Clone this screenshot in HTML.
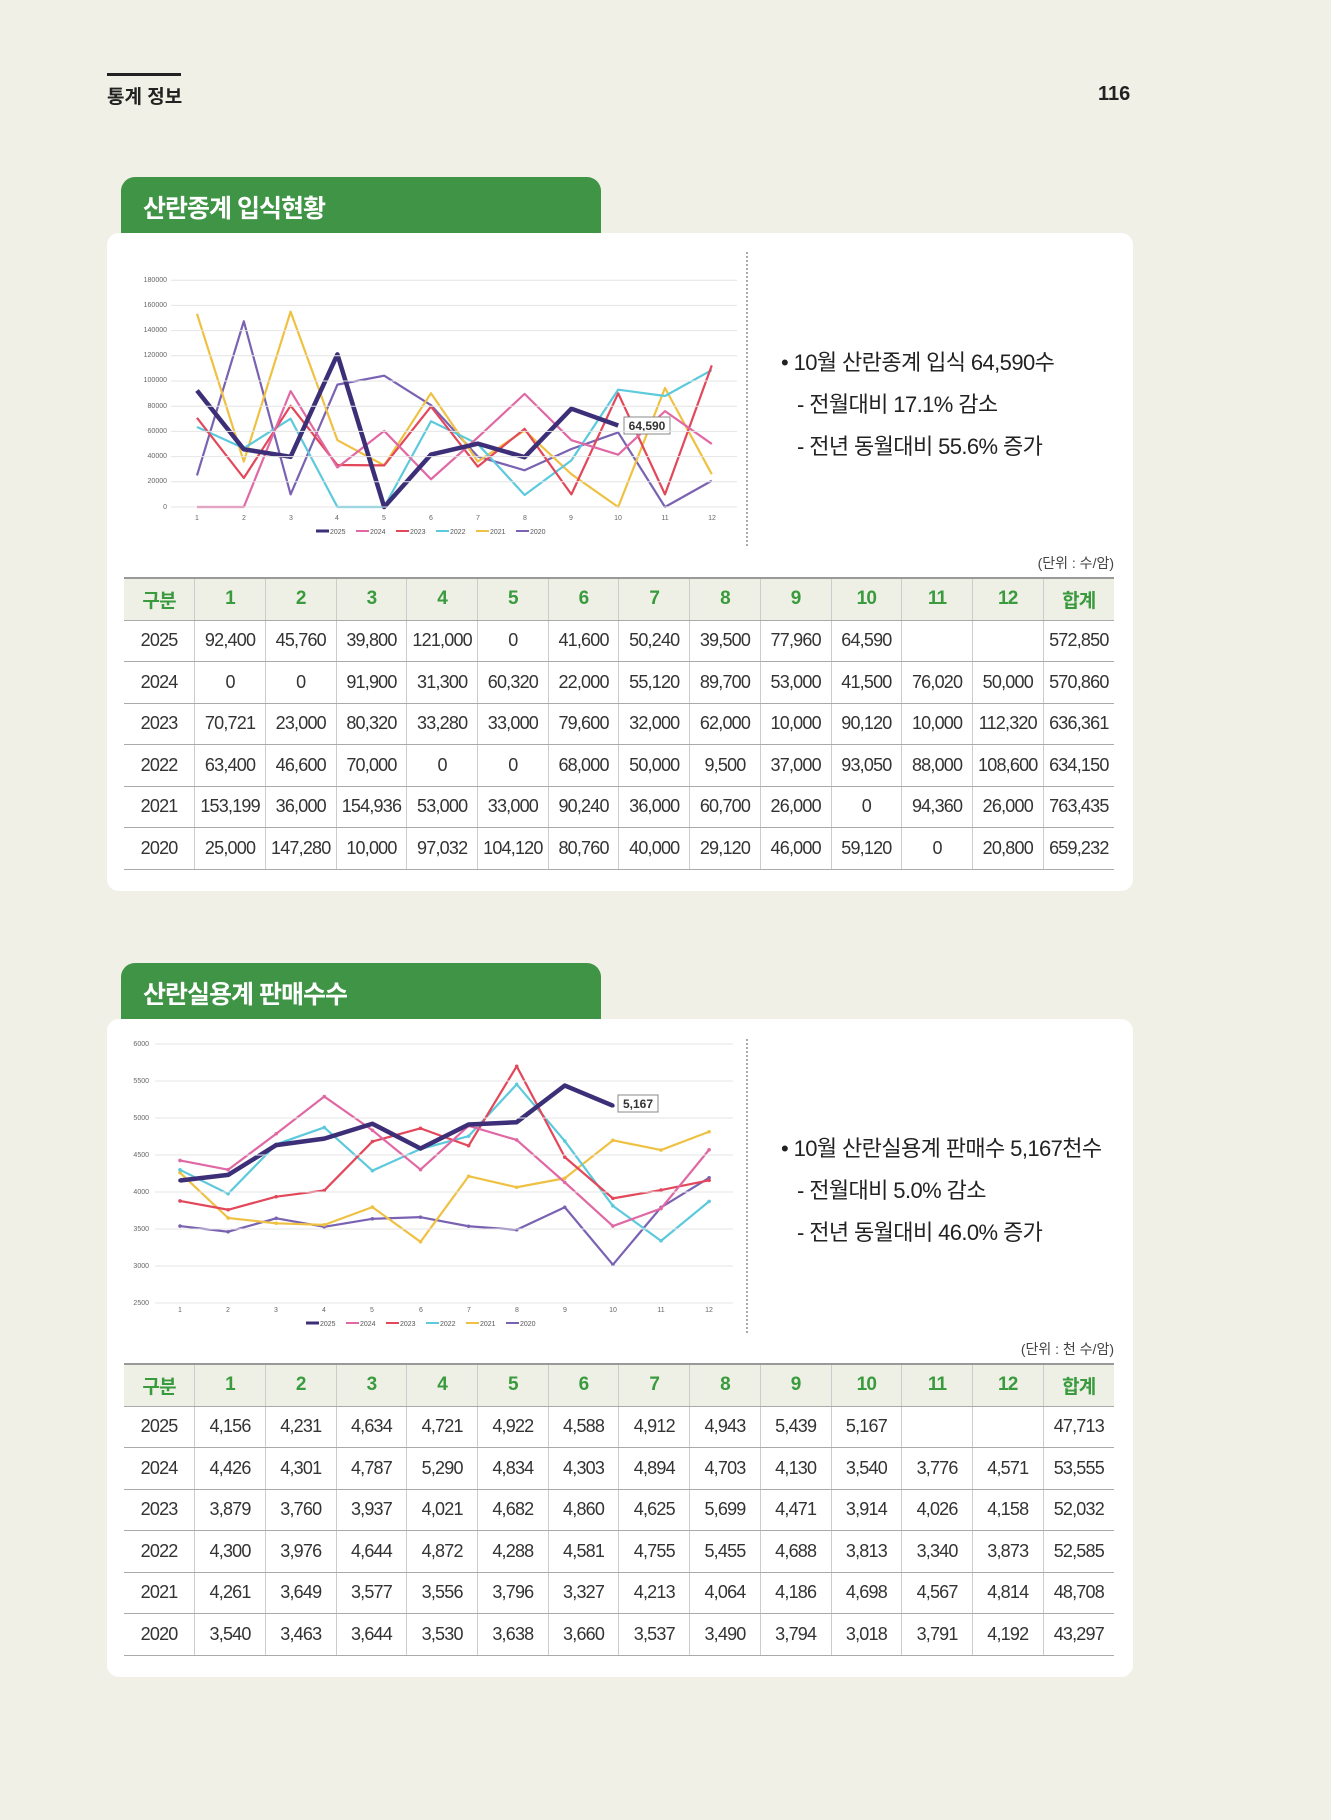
<!DOCTYPE html>
<html><head><meta charset="utf-8"><style>
*{margin:0;padding:0;box-sizing:border-box}
body{width:1331px;height:1820px;background:#f0f0e7;position:relative;font-family:"Liberation Sans","Noto Sans CJK KR",sans-serif;color:#222;overflow:hidden}
.abs{position:absolute}
.tab{position:absolute;left:121px;width:480px;height:58px;background:#3f9446;border-radius:14px 14px 0 0;color:#fff;font-size:25px;font-weight:bold;padding:12px 0 0 22px;letter-spacing:-1px}
.card{position:absolute;left:107px;width:1026px;background:#fff;border-radius:12px}
table{position:absolute;left:124px;width:990px;border-collapse:collapse;table-layout:fixed}
td,th{text-align:center;font-size:18px;letter-spacing:-0.8px;border-bottom:1px solid #aaa;border-left:1px solid #ccc;font-weight:normal;color:#333}
td:first-child,th:first-child{border-left:none}
th{background:#eef0e5;color:#3a9a3e;font-weight:bold;font-size:19px;border-top:2px solid #999}
.txt{position:absolute;font-size:22px;color:#222;letter-spacing:-0.6px}
.unit{position:absolute;font-size:14px;color:#444;right:217px}
svg text{font-family:"Liberation Sans",sans-serif}
</style></head><body>
<div class="abs" style="left:107px;top:73px;width:74px;height:3px;background:#222"></div>
<div class="abs" style="left:107px;top:82px;font-size:19px;font-weight:bold">통계 정보</div>
<div class="abs" style="left:1098px;top:83px;font-size:20px;font-weight:bold">116</div>

<div class="tab" style="top:177px">산란종계 입식현황</div>
<div class="card" style="top:233px;height:658px"></div>
<div class="tab" style="top:963px">산란실용계 판매수수</div>
<div class="card" style="top:1019px;height:658px"></div>

<svg id="sv" class="abs" style="left:0;top:0" width="1331" height="1820">
<line x1="747" y1="252" x2="747" y2="548" stroke="#555" stroke-dasharray="2,2"/>
<line x1="747" y1="1039" x2="747" y2="1334" stroke="#555" stroke-dasharray="2,2"/>
<g font-size="7" fill="#666" text-anchor="end">
<text x="167" y="282">180000</text><text x="167" y="307">160000</text><text x="167" y="332">140000</text><text x="167" y="357">120000</text><text x="167" y="382">100000</text><text x="167" y="408">80000</text><text x="167" y="433">60000</text><text x="167" y="458">40000</text><text x="167" y="483">20000</text><text x="167" y="509">0</text>
<text x="149" y="1046">6000</text><text x="149" y="1083">5500</text><text x="149" y="1120">5000</text><text x="149" y="1157">4500</text><text x="149" y="1194">4000</text><text x="149" y="1231">3500</text><text x="149" y="1268">3000</text><text x="149" y="1305">2500</text>
</g>
<g font-size="7" fill="#666" text-anchor="middle" id="xl"></g>
<g id="g1"></g><g id="g2"></g>
<g font-size="8" fill="#555" id="lg"></g>
<rect x="624" y="417" width="46" height="17" fill="#fff" stroke="#888"/>
<text x="647" y="430" font-size="12" font-weight="bold" fill="#333" text-anchor="middle">64,590</text>
<rect x="618" y="1095" width="40" height="17" fill="#fff" stroke="#888"/>
<text x="638" y="1108" font-size="12" font-weight="bold" fill="#333" text-anchor="middle">5,167</text>
</svg>

<div class="txt" style="left:781px;top:345px">• 10월 산란종계 입식 64,590수</div>
<div class="txt" style="left:797px;top:387px">- 전월대비 17.1% 감소</div>
<div class="txt" style="left:797px;top:429px">- 전년 동월대비 55.6% 증가</div>
<div class="txt" style="left:781px;top:1131px">• 10월 산란실용계 판매수 5,167천수</div>
<div class="txt" style="left:797px;top:1173px">- 전월대비 5.0% 감소</div>
<div class="txt" style="left:797px;top:1215px">- 전년 동월대비 46.0% 증가</div>
<div class="unit" style="top:553px">(단위 : 수/암)</div>
<div class="unit" style="top:1339px">(단위 : 천 수/암)</div>

<table style="top:577px">
<tr style="height:42px"><th>구분</th><th>1</th><th>2</th><th>3</th><th>4</th><th>5</th><th>6</th><th>7</th><th>8</th><th>9</th><th>10</th><th>11</th><th>12</th><th>합계</th></tr>
<tr style="height:41.5px"><td>2025</td><td>92,400</td><td>45,760</td><td>39,800</td><td>121,000</td><td>0</td><td>41,600</td><td>50,240</td><td>39,500</td><td>77,960</td><td>64,590</td><td></td><td></td><td>572,850</td></tr>
<tr style="height:41.5px"><td>2024</td><td>0</td><td>0</td><td>91,900</td><td>31,300</td><td>60,320</td><td>22,000</td><td>55,120</td><td>89,700</td><td>53,000</td><td>41,500</td><td>76,020</td><td>50,000</td><td>570,860</td></tr>
<tr style="height:41.5px"><td>2023</td><td>70,721</td><td>23,000</td><td>80,320</td><td>33,280</td><td>33,000</td><td>79,600</td><td>32,000</td><td>62,000</td><td>10,000</td><td>90,120</td><td>10,000</td><td>112,320</td><td>636,361</td></tr>
<tr style="height:41.5px"><td>2022</td><td>63,400</td><td>46,600</td><td>70,000</td><td>0</td><td>0</td><td>68,000</td><td>50,000</td><td>9,500</td><td>37,000</td><td>93,050</td><td>88,000</td><td>108,600</td><td>634,150</td></tr>
<tr style="height:41.5px"><td>2021</td><td>153,199</td><td>36,000</td><td>154,936</td><td>53,000</td><td>33,000</td><td>90,240</td><td>36,000</td><td>60,700</td><td>26,000</td><td>0</td><td>94,360</td><td>26,000</td><td>763,435</td></tr>
<tr style="height:41.5px"><td>2020</td><td>25,000</td><td>147,280</td><td>10,000</td><td>97,032</td><td>104,120</td><td>80,760</td><td>40,000</td><td>29,120</td><td>46,000</td><td>59,120</td><td>0</td><td>20,800</td><td>659,232</td></tr>
</table>

<table style="top:1363px">
<tr style="height:42px"><th>구분</th><th>1</th><th>2</th><th>3</th><th>4</th><th>5</th><th>6</th><th>7</th><th>8</th><th>9</th><th>10</th><th>11</th><th>12</th><th>합계</th></tr>
<tr style="height:41.5px"><td>2025</td><td>4,156</td><td>4,231</td><td>4,634</td><td>4,721</td><td>4,922</td><td>4,588</td><td>4,912</td><td>4,943</td><td>5,439</td><td>5,167</td><td></td><td></td><td>47,713</td></tr>
<tr style="height:41.5px"><td>2024</td><td>4,426</td><td>4,301</td><td>4,787</td><td>5,290</td><td>4,834</td><td>4,303</td><td>4,894</td><td>4,703</td><td>4,130</td><td>3,540</td><td>3,776</td><td>4,571</td><td>53,555</td></tr>
<tr style="height:41.5px"><td>2023</td><td>3,879</td><td>3,760</td><td>3,937</td><td>4,021</td><td>4,682</td><td>4,860</td><td>4,625</td><td>5,699</td><td>4,471</td><td>3,914</td><td>4,026</td><td>4,158</td><td>52,032</td></tr>
<tr style="height:41.5px"><td>2022</td><td>4,300</td><td>3,976</td><td>4,644</td><td>4,872</td><td>4,288</td><td>4,581</td><td>4,755</td><td>5,455</td><td>4,688</td><td>3,813</td><td>3,340</td><td>3,873</td><td>52,585</td></tr>
<tr style="height:41.5px"><td>2021</td><td>4,261</td><td>3,649</td><td>3,577</td><td>3,556</td><td>3,796</td><td>3,327</td><td>4,213</td><td>4,064</td><td>4,186</td><td>4,698</td><td>4,567</td><td>4,814</td><td>48,708</td></tr>
<tr style="height:41.5px"><td>2020</td><td>3,540</td><td>3,463</td><td>3,644</td><td>3,530</td><td>3,638</td><td>3,660</td><td>3,537</td><td>3,490</td><td>3,794</td><td>3,018</td><td>3,791</td><td>4,192</td><td>43,297</td></tr>
</table>

<script>
var NS="http://www.w3.org/2000/svg",sv=document.getElementById("sv");
function el(t,a,p){var e=document.createElementNS(NS,t);for(var k in a)e.setAttribute(k,a[k]);(p||sv).appendChild(e);return e;}
var cols=["#3d2e78","#e068a4","#e2475a","#5cc9dd","#efc143","#7a62b2"];
var d1=[[92400,45760,39800,121000,0,41600,50240,39500,77960,64590],
[0,0,91900,31300,60320,22000,55120,89700,53000,41500,76020,50000],
[70721,23000,80320,33280,33000,79600,32000,62000,10000,90120,10000,112320],
[63400,46600,70000,0,0,68000,50000,9500,37000,93050,88000,108600],
[153199,36000,154936,53000,33000,90240,36000,60700,26000,0,94360,26000],
[25000,147280,10000,97032,104120,80760,40000,29120,46000,59120,0,20800]];
var d2=[[4156,4231,4634,4721,4922,4588,4912,4943,5439,5167],
[4426,4301,4787,5290,4834,4303,4894,4703,4130,3540,3776,4571],
[3879,3760,3937,4021,4682,4860,4625,5699,4471,3914,4026,4158],
[4300,3976,4644,4872,4288,4581,4755,5455,4688,3813,3340,3873],
[4261,3649,3577,3556,3796,3327,4213,4064,4186,4698,4567,4814],
[3540,3463,3644,3530,3638,3660,3537,3490,3794,3018,3791,4192]];
// grids
for(var i=0;i<10;i++){var y=507-i*25.2;el("line",{x1:171,x2:737,y1:y,y2:y,stroke:"#e4e4e4"});}
for(var i=0;i<8;i++){var y=1303-i*37;el("line",{x1:155,x2:733,y1:y,y2:y,stroke:"#e4e4e4"});}
function draw(data,x0,dx,fy,g,mk){for(var s=data.length-1;s>=0;s--){var pts=data[s].map(function(v,j){return (x0+j*dx)+","+fy(v)}).join(" ");
el("polyline",{points:pts,fill:"none",stroke:cols[s],"stroke-width":s==0?4.5:2.2,"stroke-linejoin":"round"},g);
if(mk)data[s].forEach(function(v,j){el("circle",{cx:x0+j*dx,cy:fy(v),r:1.8,fill:cols[s]},g)});}}
draw(d1,197,46.8,function(v){return 507-v*227/180000},document.getElementById("g1"),false);
draw(d2,180,48.1,function(v){return 1303-(v-2500)*259/3500},document.getElementById("g2"),true);
// legends
var yrs=["2025","2024","2023","2022","2021","2020"];
[[316,531],[306,1323]].forEach(function(p){yrs.forEach(function(y,i){var x=p[0]+i*40;
el("line",{x1:x,x2:x+13,y1:p[1],y2:p[1],stroke:cols[i],"stroke-width":i==0?3:2});
var t=el("text",{x:x+14,y:p[1]+3,"font-size":7,fill:"#555"});t.textContent=y;});});
</script>
<svg class="abs" style="left:0;top:0" width="1331" height="1820">
<g font-size="7" fill="#666" text-anchor="middle">
<text x="197" y="520">1</text><text x="244" y="520">2</text><text x="291" y="520">3</text><text x="337" y="520">4</text><text x="384" y="520">5</text><text x="431" y="520">6</text><text x="478" y="520">7</text><text x="525" y="520">8</text><text x="571" y="520">9</text><text x="618" y="520">10</text><text x="665" y="520">11</text><text x="712" y="520">12</text>
<text x="180" y="1312">1</text><text x="228" y="1312">2</text><text x="276" y="1312">3</text><text x="324" y="1312">4</text><text x="372" y="1312">5</text><text x="421" y="1312">6</text><text x="469" y="1312">7</text><text x="517" y="1312">8</text><text x="565" y="1312">9</text><text x="613" y="1312">10</text><text x="661" y="1312">11</text><text x="709" y="1312">12</text>
</g></svg>
</body></html>
